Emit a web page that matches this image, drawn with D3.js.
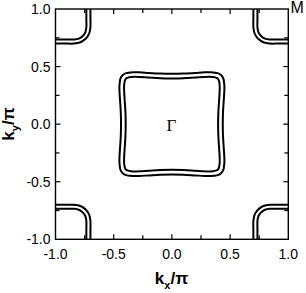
<!DOCTYPE html>
<html><head><meta charset="utf-8">
<script src="https://cdn.jsdelivr.net/npm/d3@7"></script>
<style>body{margin:0;background:#fff}svg{display:block}</style>
</head><body>
<script>
// ---- data (kx/π, ky/π) ----
const xTicks = [-1.0, -0.5, 0.0, 0.5, 1.0];
const yTicks = [-1.0, -0.5, 0.0, 0.5, 1.0];
const minorTicks = [-0.75, -0.25, 0.25, 0.75];
const xTickLabels = ["-1.0", "-0.5", "0.0", "0.5", "1.0"];
const yTickLabels = ["-1.0", "-0.5", "0.0", "0.5", "1.0"];
// Γ-centred pocket, one octant (from kx axis up to diagonal), two sheets
const gammaOuterOctant = [[0.437,0.00],[0.439,0.10],[0.445,0.20],[0.450,0.28],[0.451,0.33],[0.448,0.36],[0.443,0.394],[0.424,0.424]];
const gammaInnerOctant = [[0.397,0.00],[0.399,0.10],[0.405,0.20],[0.410,0.28],[0.411,0.32],[0.409,0.35],[0.404,0.377],[0.395,0.395]];
// M-centred pocket in the (+,+) corner, two sheets
const mOuter = [[0.700,1.00],[0.700,0.92],[0.700,0.84],[0.711,0.786],[0.741,0.741],[0.786,0.711],[0.840,0.700],[0.920,0.700],[1.00,0.700]];
const mInner = [[0.735,1.00],[0.735,0.92],[0.735,0.84],[0.743,0.800],[0.766,0.766],[0.800,0.743],[0.840,0.735],[0.920,0.735],[1.00,0.735]];

const W = 306, H = 293;
const m = {l:55.5, r:288.3, t:9, b:239.3};
const svg = d3.select("body").append("svg").attr("width", W).attr("height", H);
const x = d3.scaleLinear().domain([-1,1]).range([m.l, m.r]);
const y = d3.scaleLinear().domain([-1,1]).range([m.b, m.t]);

function fullCurve(oct) {
  const q = oct.concat(oct.slice(0,-1).reverse().map(([a,b]) => [b,a]));
  const pts = [];
  q.forEach(p => pts.push([p[0], p[1]]));
  q.slice(1).forEach(p => pts.push([-p[1], p[0]]));
  q.slice(1).forEach(p => pts.push([-p[0], -p[1]]));
  q.slice(1, -1).forEach(p => pts.push([p[1], -p[0]]));
  return pts;
}
const closedLine = d3.line().x(d => x(d[0])).y(d => y(d[1])).curve(d3.curveCatmullRomClosed);
const openLine = d3.line().x(d => x(d[0])).y(d => y(d[1])).curve(d3.curveCatmullRom);

const g = svg.append("g");
[gammaOuterOctant, gammaInnerOctant].forEach(o => {
  g.append("path").attr("d", closedLine(fullCurve(o))).attr("fill","none").attr("stroke","#000").attr("stroke-width",2);
});
[[1,1],[-1,1],[-1,-1],[1,-1]].forEach(([sx,sy]) => {
  [mOuter, mInner].forEach(c => {
    g.append("path").attr("d", openLine(c.map(p => [sx*p[0], sy*p[1]])))
      .attr("fill","none").attr("stroke","#000").attr("stroke-width",2);
  });
});

svg.append("rect").attr("x", m.l).attr("y", m.t).attr("width", m.r-m.l).attr("height", m.b-m.t)
  .attr("fill","none").attr("stroke","#000").attr("stroke-width",1.4);

const tk = svg.append("g").attr("stroke","#000").attr("stroke-width",1.2);
function ticks(vals, len) {
  vals.forEach(v => {
    tk.append("line").attr("x1", x(v)).attr("x2", x(v)).attr("y1", m.b).attr("y2", m.b-len);
    tk.append("line").attr("x1", x(v)).attr("x2", x(v)).attr("y1", m.t).attr("y2", m.t+len);
    tk.append("line").attr("y1", y(v)).attr("y2", y(v)).attr("x1", m.l).attr("x2", m.l+len);
    tk.append("line").attr("y1", y(v)).attr("y2", y(v)).attr("x1", m.r).attr("x2", m.r-len);
  });
}
ticks(xTicks.slice(1,-1), 5);
ticks(minorTicks, 4);

const font = "Liberation Sans, Arial, sans-serif";
xTicks.forEach((v,i) => {
  svg.append("text").attr("x", x(v)).attr("y", 258.5).attr("text-anchor","middle")
    .attr("font-family", font).attr("font-size", 14).text(xTickLabels[i]);
});
yTicks.forEach((v,i) => {
  svg.append("text").attr("x", 50.5).attr("y", y(v)).attr("dy","0.36em").attr("text-anchor","end")
    .attr("font-family", font).attr("font-size", 14).text(yTickLabels[i]);
});

const xt = svg.append("text").attr("x", 171.5).attr("y", 284).attr("text-anchor","middle")
  .attr("font-family", font).attr("font-size", 17).attr("font-weight","bold");
xt.append("tspan").text("k");
xt.append("tspan").attr("font-size", 11).attr("dy", 5).text("x");
xt.append("tspan").attr("dy", -5).text("/π");

const yt = svg.append("text").attr("transform", "translate(14,124) rotate(-90)").attr("text-anchor","middle")
  .attr("font-family", font).attr("font-size", 17).attr("font-weight","bold");
yt.append("tspan").text("k");
yt.append("tspan").attr("font-size", 11).attr("dy", 5).text("y");
yt.append("tspan").attr("dy", -5).text("/π");

svg.append("text").attr("x", 290.5).attr("y", 13).attr("font-family", font).attr("font-size", 16).text("M");
svg.append("text").attr("x", 171.5).attr("y", 130.5).attr("text-anchor","middle")
  .attr("font-family", "Liberation Serif, Times New Roman, serif").attr("font-size", 17).text("Γ");
</script>
</body></html>
